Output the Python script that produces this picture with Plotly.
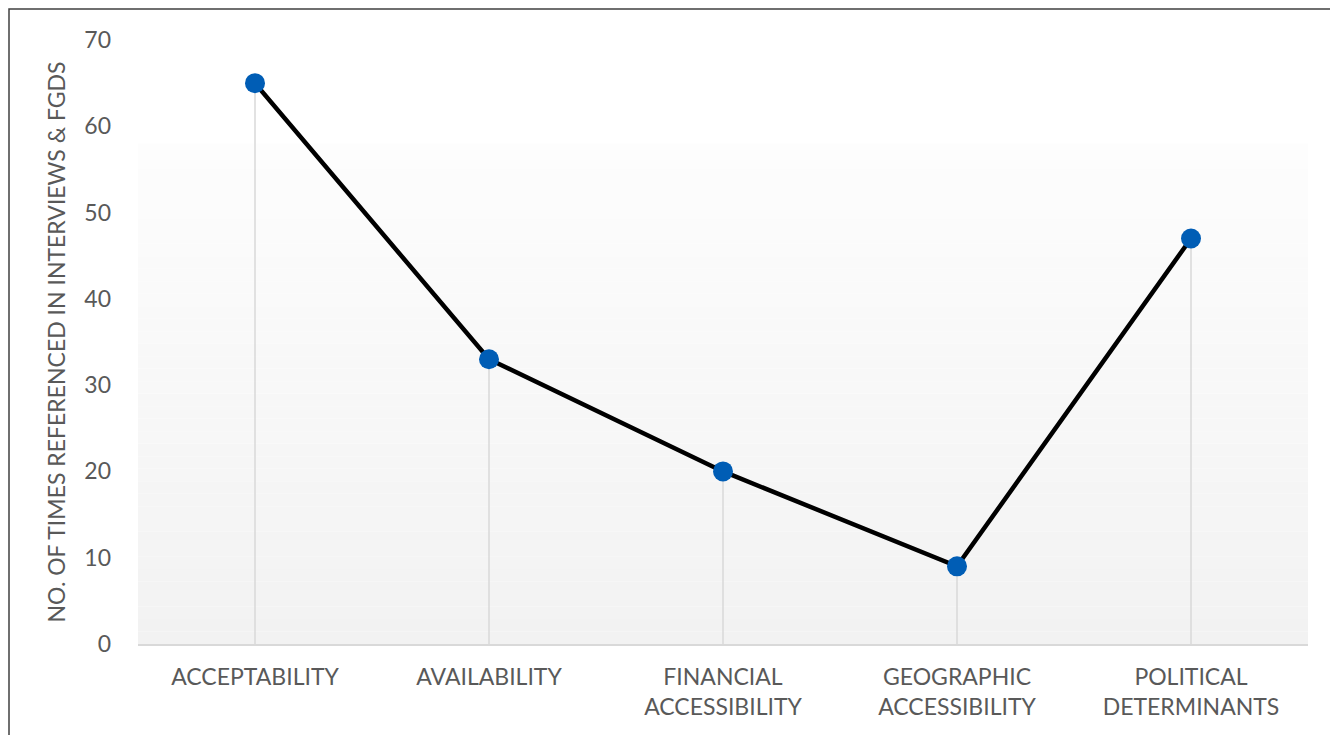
import plotly.graph_objects as go

categories = ["ACCEPTABILITY", "AVAILABILITY", "FINANCIAL<br>ACCESSIBILITY",
              "GEOGRAPHIC<br>ACCESSIBILITY", "POLITICAL<br>DETERMINANTS"]
values = [65, 33, 20, 9, 47]
y_ticks = [0, 10, 20, 30, 40, 50, 60, 70]

# page body has an 8px margin; figure placed at (8, 8)
W, H = 1330, 727
ML, MR, MT, MB = 130, 30, 32, 91
pw, ph = W - ML - MR, H - MT - MB

fig = go.Figure()

# vertical drop lines
for i, v in enumerate(values):
    fig.add_trace(go.Scatter(x=[i, i], y=[0, v], mode="lines",
                             line=dict(color="#d9d9d9", width=1.5),
                             hoverinfo="skip", showlegend=False))

fig.add_trace(go.Scatter(x=list(range(len(categories))), y=values, mode="lines+markers",
                         line=dict(color="#000000", width=4.5),
                         marker=dict(color="#005db5", size=20),
                         showlegend=False))

shapes = []
# gradient background bands
n = 40
top = 58.0
for k in range(n):
    y0 = top * k / n
    y1 = top * (k + 1) / n
    t = k / (n - 1)
    c = int(round(0xf2 + (0xfd - 0xf2) * t))
    shapes.append(dict(type="rect", xref="paper", yref="y", x0=0, x1=1, y0=y0, y1=y1,
                       fillcolor=f"rgb({c},{c},{c})", line=dict(width=0), layer="below"))

# outer border
shapes.append(dict(type="rect", xref="paper", yref="paper",
                   x0=(1 - ML) / pw, x1=(W - 1 - ML) / pw,
                   y0=-(MB + 20) / ph, y1=(MT + ph - 1) / ph,
                   line=dict(color="#404040", width=1.5), fillcolor="rgba(0,0,0,0)"))

fig.update_layout(
    width=W, height=H,
    margin=dict(l=ML, r=MR, t=MT, b=MB),
    paper_bgcolor="white", plot_bgcolor="white",
    font=dict(family="Lato, Open Sans, sans-serif", color="#595959", size=23),
    shapes=shapes,
    xaxis=dict(range=[-0.5, 4.5], tickmode="array", tickvals=list(range(len(categories))),
               ticktext=categories, showgrid=False, zeroline=False,
               showline=True, linecolor="#d9d9d9", linewidth=1.5, ticks="",
               ticklabelstandoff=12,
               tickfont=dict(size=23, color="#595959")),
    yaxis=dict(range=[0, 70], tickmode="array", tickvals=y_ticks, showgrid=False,
               zeroline=False, showline=False, ticks="", ticklabelstandoff=26,
               tickfont=dict(size=23, color="#595959"),
               title=dict(text="NO. OF TIMES REFERENCED IN INTERVIEWS & FGDS",
                          font=dict(size=23, color="#595959"), standoff=12)),
)

fig.write_html("out.html")
